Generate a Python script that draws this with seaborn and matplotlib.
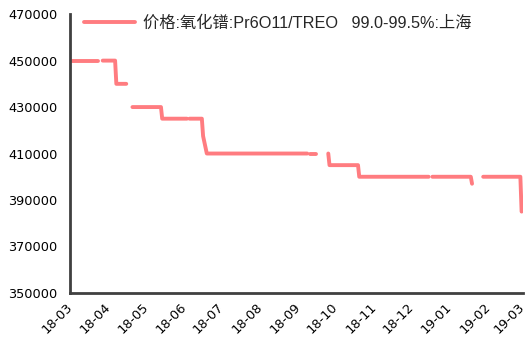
"""Praseodymium oxide price (Shanghai), daily with gaps."""
import matplotlib
matplotlib.use("Agg")
import matplotlib.dates as mdates
import matplotlib.pyplot as plt
import pandas as pd
import seaborn as sns

# observation points; each segment is a run of quoted days (gaps between segments)
dates = [
    "2018-03-02", "2018-03-23",
    "2018-03-27", "2018-04-06", "2018-04-07", "2018-04-15",
    "2018-04-20", "2018-05-13", "2018-05-14", "2018-06-03",
    "2018-06-05", "2018-06-15", "2018-06-16", "2018-06-19", "2018-09-08",
    "2018-09-10", "2018-09-15",
    "2018-09-25", "2018-09-26", "2018-10-19", "2018-10-20", "2018-12-15",
    "2018-12-18", "2019-01-18", "2019-01-19",
    "2019-01-28", "2019-02-27", "2019-02-28",
]
prices = [
    450000, 450000,
    450000, 450000, 440000, 440000,
    430000, 430000, 425000, 425000,
    425000, 425000, 417500, 410000, 410000,
    410000, 410000,
    410000, 405000, 405000, 400000, 400000,
    400000, 400000, 397000,
    400000, 400000, 385000,
]
segments = [
    0, 0,
    1, 1, 1, 1,
    2, 2, 2, 2,
    3, 3, 3, 3, 3,
    4, 4,
    5, 5, 5, 5, 5,
    6, 6, 6,
    7, 7, 7,
]
y_ticks = [350000, 370000, 390000, 410000, 430000, 450000, 470000]
label = "价格:氧化镨:Pr6O11/TREO   99.0-99.5%:上海"
line_color = "#FF7C80"

df = pd.DataFrame({"date": pd.to_datetime(dates), "price": prices, "seg": segments})

sns.set_style("white")
plt.rcParams["font.family"] = ["DejaVu Sans"]

fig = plt.figure(figsize=(5.26, 3.45), dpi=100)
ax = fig.add_axes([0.134, 0.151, 0.860, 0.808])

sns.lineplot(data=df, x="date", y="price", units="seg", estimator=None,
             color=line_color, lw=2.8, solid_capstyle="round", ax=ax,
             legend=False)

ax.set_xlim(pd.Timestamp("2018-03-01"), pd.Timestamp("2019-03-01"))
ax.set_ylim(350000, 470000)
ax.set_yticks(y_ticks)
ax.set_yticklabels([str(v) for v in y_ticks])
ax.xaxis.set_major_locator(mdates.MonthLocator())
ax.xaxis.set_major_formatter(mdates.DateFormatter("%y-%m"))
ax.set_xlabel("")
ax.set_ylabel("")

for s in ["top", "right"]:
    ax.spines[s].set_visible(False)
for s in ["left", "bottom"]:
    ax.spines[s].set_color("#404040")
    ax.spines[s].set_linewidth(2.0)

ax.tick_params(axis="both", direction="out", length=3, width=1.8,
               color="#404040", labelsize=9.3, labelcolor="#000000")
ax.tick_params(axis="y", pad=6.5)
ax.tick_params(axis="x", pad=5.5)
plt.setp(ax.get_xticklabels(), rotation=45, ha="right", va="center",
         rotation_mode="anchor")

handle = plt.Line2D([], [], color=line_color, lw=2.8)
ax.legend([handle], [label], loc="upper left", bbox_to_anchor=(-0.002, 1.048),
          frameon=False, handlelength=3.15, handletextpad=0.48,
          prop={"family": ["Liberation Sans", "Noto Sans CJK SC"], "size": 11.7})

fig.savefig("out.png", dpi=100)
